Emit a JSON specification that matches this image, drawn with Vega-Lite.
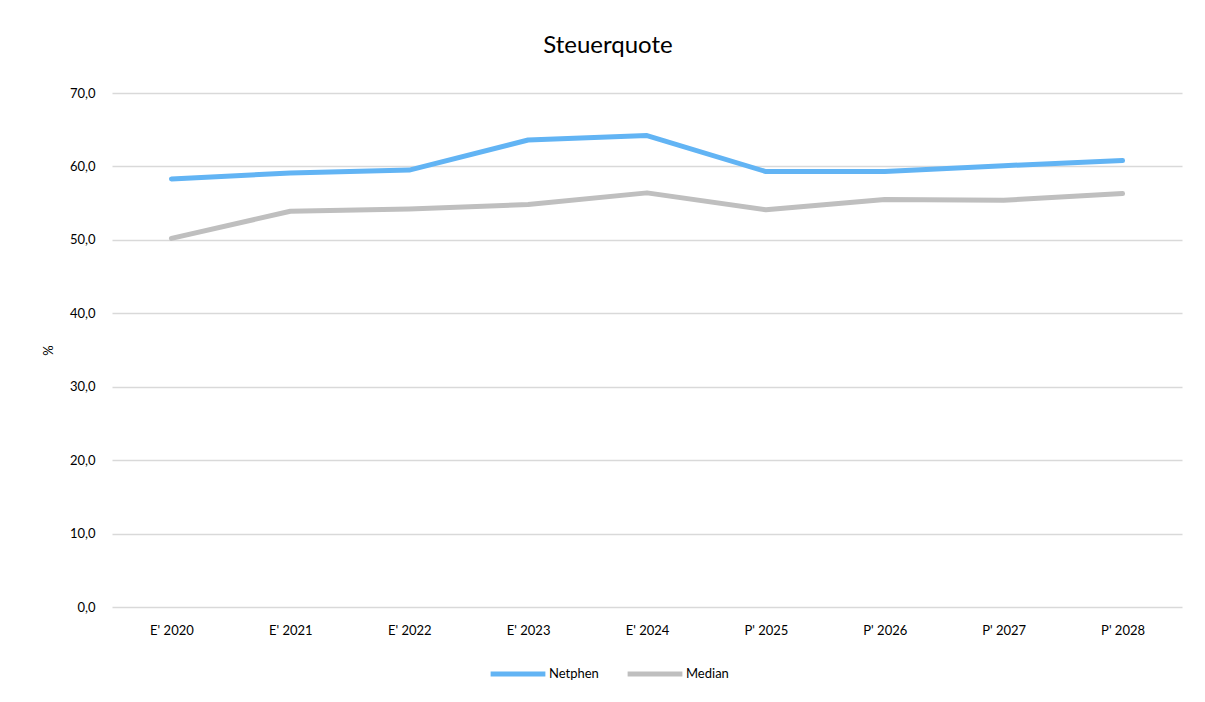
{
  "$schema": "https://vega.github.io/schema/vega-lite/v6.json",
  "width": 1070,
  "height": 514,
  "autosize": {"type": "none"},
  "padding": {"left": 112, "top": 93, "right": 23, "bottom": 95},
  "background": "white",
  "title": {
    "text": "Steuerquote",
    "font": "Lato",
    "fontSize": 24,
    "fontWeight": "normal",
    "color": "#000000",
    "anchor": "middle",
    "dx": -39,
    "offset": 29
  },
  "data": {
    "values": [
      {"jahr": "E' 2020", "serie": "Netphen", "wert": 58.3},
      {"jahr": "E' 2021", "serie": "Netphen", "wert": 59.1},
      {"jahr": "E' 2022", "serie": "Netphen", "wert": 59.5},
      {"jahr": "E' 2023", "serie": "Netphen", "wert": 63.6},
      {"jahr": "E' 2024", "serie": "Netphen", "wert": 64.2},
      {"jahr": "P' 2025", "serie": "Netphen", "wert": 59.3},
      {"jahr": "P' 2026", "serie": "Netphen", "wert": 59.3},
      {"jahr": "P' 2027", "serie": "Netphen", "wert": 60.1},
      {"jahr": "P' 2028", "serie": "Netphen", "wert": 60.8},
      {"jahr": "E' 2020", "serie": "Median", "wert": 50.2},
      {"jahr": "E' 2021", "serie": "Median", "wert": 53.9},
      {"jahr": "E' 2022", "serie": "Median", "wert": 54.2},
      {"jahr": "E' 2023", "serie": "Median", "wert": 54.8},
      {"jahr": "E' 2024", "serie": "Median", "wert": 56.4},
      {"jahr": "P' 2025", "serie": "Median", "wert": 54.1},
      {"jahr": "P' 2026", "serie": "Median", "wert": 55.5},
      {"jahr": "P' 2027", "serie": "Median", "wert": 55.4},
      {"jahr": "P' 2028", "serie": "Median", "wert": 56.3}
    ]
  },
  "mark": {"type": "line", "strokeWidth": 5, "strokeCap": "round", "strokeJoin": "round"},
  "encoding": {
    "x": {
      "field": "jahr",
      "type": "ordinal",
      "sort": null,
      "scale": {"type": "point", "padding": 0.5},
      "axis": {
        "title": null,
        "labelAngle": 0,
        "ticks": false,
        "domain": false,
        "grid": false,
        "labelPadding": 17,
        "labelFont": "Lato",
        "labelFontSize": 13,
        "labelColor": "#000000"
      }
    },
    "y": {
      "field": "wert",
      "type": "quantitative",
      "scale": {"domain": [0, 70]},
      "axis": {
        "title": "%",
        "titleFont": "Lato",
        "titleFontSize": 13,
        "titleFontWeight": "normal",
        "titleColor": "#000000",
        "titlePadding": 14,
        "values": [0, 10, 20, 30, 40, 50, 60, 70],
        "labelExpr": "replace(format(datum.value, '.1f'), '.', ',')",
        "labelFont": "Lato",
        "labelFontSize": 13,
        "labelColor": "#000000",
        "labelPadding": 17,
        "ticks": false,
        "domain": false,
        "grid": true,
        "gridColor": "#D9D9D9",
        "gridWidth": 1.3
      }
    },
    "color": {
      "field": "serie",
      "type": "nominal",
      "sort": ["Netphen", "Median"],
      "scale": {"domain": ["Netphen", "Median"], "range": ["#62B4F4", "#BFBFBF"]},
      "legend": {
        "title": null,
        "orient": "none",
        "direction": "horizontal",
        "legendX": 376,
        "legendY": 551,
        "symbolType": "stroke",
        "symbolSize": 3000,
        "symbolStrokeWidth": 5,
        "labelFont": "Lato",
        "labelFontSize": 13,
        "labelColor": "#000000",
        "labelOffset": 1,
        "columnPadding": 18
      }
    }
  },
  "config": {
    "view": {"stroke": null}
  }
}
